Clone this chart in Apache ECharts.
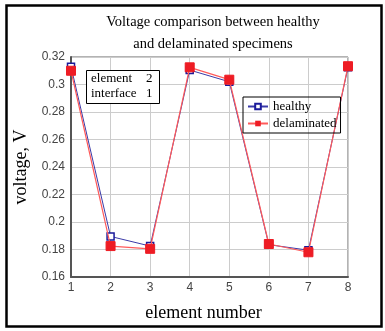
<!DOCTYPE html>
<html><head><meta charset="utf-8">
<script src="https://cdn.jsdelivr.net/npm/echarts@6/dist/echarts.min.js"></script>
<style>html,body{margin:0;padding:0;background:#fff}#c{width:385px;height:331px}</style>
</head><body><div id="c"></div>
<script>
const elements = [1, 2, 3, 4, 5, 6, 7, 8];
const healthy = [0.313, 0.1895, 0.1825, 0.3105, 0.302, 0.1835, 0.1795, 0.3125];
const delaminated = [0.310, 0.1825, 0.1805, 0.3125, 0.3035, 0.184, 0.178, 0.3133];
const yTicks = { min: 0.16, max: 0.32, step: 0.02 };
const xTicks = { min: 1, max: 8, step: 1 };

const chart = echarts.init(document.getElementById('c'));
const serif = '"Liberation Serif", "DejaVu Serif", serif';
const sans = '"Liberation Sans", Arial, sans-serif';
chart.setOption({
  backgroundColor: '#fff',
  animation: false,
  title: {
    text: 'Voltage comparison between healthy\nand delaminated specimens',
    left: 208, top: 6, textAlign: 'center',
    textStyle: { fontFamily: serif, fontSize: 14.5, fontWeight: 'normal', color: '#000', lineHeight: 22 }
  },
  grid: { left: 71, right: 37, top: 57, bottom: 54, show: true, borderColor: '#666', borderWidth: 1 },
  legend: {
    orient: 'vertical', left: 243, top: 97,
    borderColor: '#000', borderWidth: 1, padding: [3, 4, 3, 4], itemGap: 4,
    itemWidth: 20, itemHeight: 7,
    textStyle: { fontFamily: serif, fontSize: 13, color: '#000' },
    data: ['healthy', 'delaminated']
  },
  xAxis: {
    type: 'value', min: xTicks.min, max: xTicks.max, interval: xTicks.step,
    name: 'element number', nameLocation: 'middle', nameGap: 27,
    nameTextStyle: { fontFamily: serif, fontSize: 18, color: '#000', padding: [0, 12, 0, 0] },
    axisLine: { show: true, lineStyle: { color: '#555', width: 2 } },
    axisTick: { show: false },
    axisLabel: { fontFamily: sans, fontSize: 12, color: '#444', margin: 5 },
    splitLine: { show: true, lineStyle: { color: '#ccc', width: 1 } }
  },
  yAxis: {
    type: 'value', min: yTicks.min, max: yTicks.max, interval: yTicks.step,
    name: 'voltage, V', nameLocation: 'middle', nameGap: 38,
    nameTextStyle: { fontFamily: serif, fontSize: 18, color: '#000' },
    axisLine: { show: true, lineStyle: { color: '#555', width: 2 } },
    axisTick: { show: false },
    axisLabel: { fontFamily: sans, fontSize: 12, color: '#444', margin: 6,
      formatter: v => String(parseFloat(v.toFixed(2))) },
    splitLine: { show: true, lineStyle: { color: '#ccc', width: 1 } }
  },
  series: [
    {
      name: 'healthy', type: 'line',
      data: elements.map((x, i) => [x, healthy[i]]),
      symbol: 'rect', symbolSize: 7,
      lineStyle: { color: '#3a3aa8', width: 1 },
      itemStyle: { color: '#fff', borderColor: '#1a1a9a', borderWidth: 1.5 },
      z: 2
    },
    {
      name: 'delaminated', type: 'line',
      data: elements.map((x, i) => [x, delaminated[i]]),
      symbol: 'rect', symbolSize: 9,
      lineStyle: { color: '#ff5a5a', width: 1.2 },
      itemStyle: { color: '#ee1c24', borderColor: '#ee1c24' },
      z: 3
    }
  ],
  graphic: [
    { type: 'rect', left: 4, top: 3, shape: { width: 375, height: 321 },
      style: { fill: 'none', stroke: '#000', lineWidth: 2.5 }, silent: true },
    { type: 'rect', left: 86, top: 70, shape: { width: 73, height: 33 },
      style: { fill: '#fff', stroke: '#000', lineWidth: 1 }, z: 10 },
    { type: 'text', left: 91, top: 72, z: 11,
      style: { text: 'element', font: '13px ' + serif, fill: '#000' } },
    { type: 'text', left: 146, top: 72, z: 11,
      style: { text: '2', font: '13px ' + serif, fill: '#000' } },
    { type: 'text', left: 91, top: 87, z: 11,
      style: { text: 'interface', font: '13px ' + serif, fill: '#000' } },
    { type: 'text', left: 146, top: 87, z: 11,
      style: { text: '1', font: '13px ' + serif, fill: '#000' } }
  ]
});
</script></body></html>
